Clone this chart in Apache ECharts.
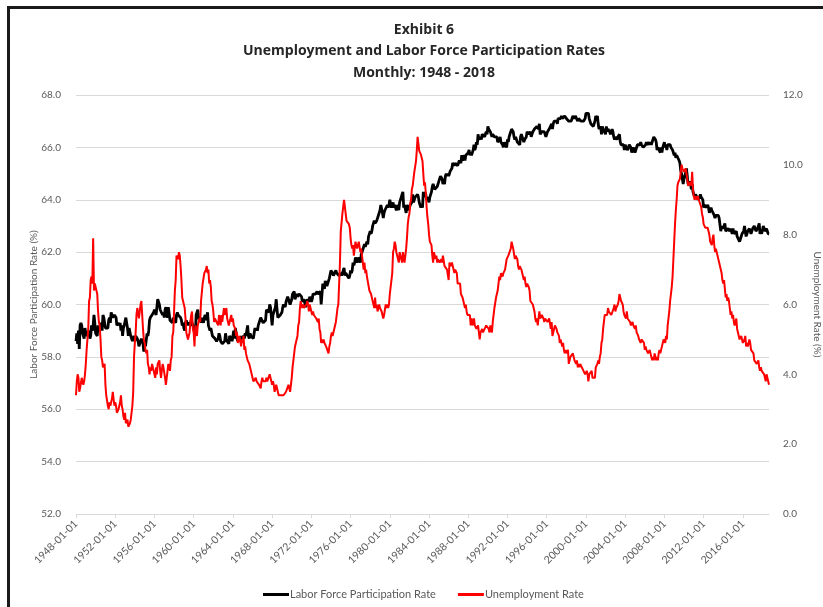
<!DOCTYPE html>
<html>
<head>
<meta charset="utf-8">
<script src="https://cdn.jsdelivr.net/npm/echarts@6/dist/echarts.min.js"></script>
<style>
  html, body { margin: 0; padding: 0; background: #fff; }
  #chart { width: 823px; height: 607px; }
</style>
</head>
<body>
<div id="chart"></div>
<script>
// Monthly series, January 1948 through September 2018 (one row per year).
const startYear = 1948;

const participationRate = [
  58.6, 58.9, 58.5, 59.0, 58.3, 59.2, 59.3, 59.2, 58.9, 58.8, 58.7, 59.1,
  58.9, 58.9, 58.8, 58.8, 59.0, 58.7, 58.8, 59.2, 59.0, 59.2, 59.6, 59.3,
  58.9, 58.9, 58.8, 59.2, 59.1, 59.1, 59.2, 59.3, 59.0, 59.6, 59.5, 59.3,
  59.1, 59.1, 59.1, 59.1, 59.4, 59.5, 59.3, 59.7, 59.6, 59.5, 59.5, 59.6,
  59.6, 59.5, 59.2, 59.2, 59.3, 59.2, 59.3, 59.0, 59.2, 58.8, 59.1, 59.2,
  59.2, 59.5, 59.5, 59.1, 58.8, 59.1, 59.1, 58.8, 58.8, 58.6, 58.8, 58.7,
  58.6, 58.8, 58.8, 58.7, 58.6, 58.4, 58.4, 58.6, 58.7, 58.6, 58.5, 58.2,
  58.5, 58.4, 58.4, 58.9, 58.8, 59.0, 59.4, 59.5, 59.5, 59.6, 59.6, 59.7,
  59.8, 59.8, 59.6, 59.9, 60.2, 60.1, 60.0, 59.8, 59.8, 59.8, 59.6, 59.7,
  59.5, 59.8, 59.9, 59.6, 59.5, 59.9, 59.9, 59.4, 59.4, 59.4, 59.3, 59.5,
  59.4, 59.4, 59.3, 59.6, 59.7, 59.6, 59.6, 59.6, 59.5, 59.4, 59.2, 59.3,
  59.1, 59.0, 59.3, 59.4, 59.2, 59.3, 59.3, 59.3, 59.2, 59.4, 59.3, 59.3,
  59.1, 59.1, 58.8, 59.6, 59.7, 59.8, 59.5, 59.4, 59.5, 59.3, 59.5, 59.4,
  59.3, 59.5, 59.6, 59.4, 59.4, 59.7, 59.2, 59.2, 59.0, 59.1, 59.1, 58.8,
  58.8, 58.8, 58.7, 58.7, 58.6, 58.6, 58.7, 58.9, 58.8, 58.6, 58.6, 58.5,
  58.5, 58.5, 58.6, 58.9, 58.7, 58.6, 58.6, 58.5, 58.8, 58.8, 58.7, 58.6,
  58.6, 59.0, 58.7, 59.1, 59.1, 58.7, 58.6, 58.7, 58.7, 58.6, 58.8, 58.7,
  58.7, 58.8, 58.7, 58.9, 58.8, 59.0, 59.2, 58.8, 58.7, 58.9, 58.8, 58.8,
  58.8, 58.7, 58.7, 59.1, 59.0, 59.1, 59.0, 59.2, 59.3, 59.3, 59.5, 59.5,
  59.5, 59.3, 59.3, 59.3, 59.4, 59.8, 59.8, 59.8, 59.7, 60.0, 59.9, 59.9,
  59.2, 59.6, 59.6, 59.6, 59.9, 60.2, 59.8, 59.5, 59.5, 59.5, 59.6, 59.6,
  59.7, 59.9, 60.0, 60.0, 59.9, 60.1, 60.1, 60.3, 60.2, 60.2, 60.0, 60.1,
  60.2, 60.4, 60.4, 60.5, 60.2, 60.2, 60.4, 60.3, 60.3, 60.4, 60.4, 60.4,
  60.3, 60.1, 60.1, 60.2, 60.2, 59.9, 60.0, 60.2, 60.2, 60.1, 60.3, 60.3,
  60.1, 60.2, 60.4, 60.4, 60.4, 60.4, 60.4, 60.5, 60.4, 60.4, 60.4, 60.5,
  60.0, 60.4, 60.8, 60.7, 60.6, 60.9, 60.8, 60.7, 60.8, 60.9, 61.0, 61.0,
  61.3, 61.3, 61.2, 61.1, 61.1, 61.1, 61.3, 61.2, 61.2, 61.2, 61.1, 61.1,
  61.2, 61.1, 61.2, 61.2, 61.4, 61.1, 61.2, 61.2, 61.1, 61.1, 61.0, 61.1,
  61.3, 61.2, 61.3, 61.6, 61.5, 61.6, 61.8, 61.8, 61.6, 61.6, 61.8, 61.8,
  61.6, 61.9, 62.0, 62.1, 62.2, 62.3, 62.2, 62.3, 62.4, 62.3, 62.6, 62.7,
  62.8, 62.7, 62.8, 63.0, 63.0, 63.2, 63.1, 63.1, 63.2, 63.3, 63.4, 63.5,
  63.6, 63.8, 63.8, 63.5, 63.3, 63.5, 63.6, 63.6, 63.6, 63.8, 63.7, 63.8,
  64.0, 64.0, 63.7, 63.8, 63.9, 63.7, 63.8, 63.7, 63.6, 63.7, 63.8, 63.6,
  63.9, 63.9, 64.1, 64.2, 64.3, 63.7, 63.8, 63.8, 63.5, 63.8, 63.8, 63.6,
  63.7, 63.8, 63.8, 63.9, 64.2, 63.9, 64.0, 64.1, 64.1, 64.1, 64.2, 64.1,
  63.9, 63.8, 63.7, 63.8, 63.7, 64.3, 64.1, 64.3, 64.2, 64.0, 64.1, 64.1,
  63.9, 64.1, 64.1, 64.3, 64.5, 64.6, 64.6, 64.4, 64.4, 64.4, 64.5, 64.6,
  64.7, 64.7, 64.9, 64.9, 64.8, 64.6, 64.7, 64.6, 64.9, 65.0, 64.9, 65.0,
  64.9, 65.0, 65.1, 65.1, 65.2, 65.4, 65.4, 65.3, 65.4, 65.4, 65.4, 65.3,
  65.4, 65.5, 65.5, 65.4, 65.7, 65.5, 65.6, 65.7, 65.5, 65.7, 65.7, 65.7,
  65.8, 65.9, 65.7, 65.8, 65.7, 65.8, 65.9, 66.1, 65.9, 66.0, 66.2, 66.1,
  66.5, 66.3, 66.3, 66.4, 66.3, 66.5, 66.5, 66.5, 66.4, 66.5, 66.6, 66.5,
  66.8, 66.7, 66.7, 66.6, 66.6, 66.4, 66.5, 66.5, 66.4, 66.4, 66.4, 66.4,
  66.2, 66.2, 66.3, 66.4, 66.2, 66.2, 66.1, 66.0, 66.2, 66.1, 66.1, 66.0,
  66.3, 66.2, 66.4, 66.5, 66.6, 66.7, 66.7, 66.6, 66.4, 66.3, 66.4, 66.4,
  66.2, 66.2, 66.2, 66.1, 66.4, 66.5, 66.4, 66.4, 66.2, 66.3, 66.3, 66.4,
  66.6, 66.6, 66.5, 66.5, 66.6, 66.4, 66.4, 66.6, 66.6, 66.7, 66.7, 66.7,
  66.8, 66.8, 66.7, 66.9, 66.5, 66.5, 66.6, 66.6, 66.6, 66.6, 66.5, 66.4,
  66.4, 66.6, 66.6, 66.7, 66.7, 66.7, 66.9, 66.7, 66.9, 67.0, 67.0, 67.0,
  67.0, 66.9, 67.1, 67.1, 67.1, 67.1, 67.2, 67.1, 67.1, 67.1, 67.2, 67.2,
  67.1, 67.1, 67.1, 67.0, 67.0, 67.0, 67.0, 67.0, 67.2, 67.2, 67.1, 67.2,
  67.2, 67.2, 67.0, 67.1, 67.1, 67.1, 67.0, 67.0, 67.0, 67.0, 67.0, 67.1,
  67.3, 67.3, 67.3, 67.3, 67.1, 67.1, 66.9, 66.9, 66.9, 66.8, 66.9, 67.0,
  67.2, 67.1, 67.2, 66.9, 66.7, 66.7, 66.8, 66.5, 66.8, 66.7, 66.7, 66.7,
  66.5, 66.8, 66.6, 66.7, 66.7, 66.6, 66.5, 66.6, 66.7, 66.6, 66.4, 66.3,
  66.4, 66.4, 66.3, 66.4, 66.4, 66.5, 66.2, 66.1, 66.1, 66.1, 66.1, 65.9,
  66.1, 66.0, 66.0, 65.9, 66.0, 66.1, 66.1, 66.0, 65.8, 65.9, 66.0, 65.9,
  65.8, 65.9, 65.9, 66.1, 66.1, 66.1, 66.1, 66.2, 66.1, 66.1, 66.0, 66.0,
  66.0, 66.1, 66.2, 66.1, 66.1, 66.2, 66.1, 66.2, 66.1, 66.2, 66.3, 66.4,
  66.4, 66.3, 66.2, 65.9, 66.0, 66.0, 66.0, 65.8, 66.0, 65.8, 66.0, 66.0,
  66.2, 66.0, 66.1, 65.9, 66.1, 66.1, 66.1, 66.1, 66.0, 66.0, 65.9, 65.8,
  65.7, 65.8, 65.6, 65.7, 65.7, 65.7, 65.5, 65.4, 65.1, 65.0, 65.0, 64.6,
  64.8, 64.9, 64.9, 65.2, 64.9, 64.6, 64.6, 64.7, 64.6, 64.4, 64.6, 64.3,
  64.2, 64.1, 64.2, 64.2, 64.1, 64.0, 64.0, 64.1, 64.2, 64.1, 64.1, 64.0,
  63.7, 63.8, 63.8, 63.7, 63.7, 63.8, 63.7, 63.5, 63.6, 63.7, 63.6, 63.6,
  63.6, 63.4, 63.3, 63.4, 63.4, 63.4, 63.4, 63.3, 63.3, 62.8, 63.0, 62.9,
  62.9, 63.0, 63.1, 62.8, 62.8, 62.8, 62.9, 62.9, 62.8, 62.9, 62.9, 62.7,
  62.9, 62.7, 62.7, 62.7, 62.8, 62.6, 62.6, 62.6, 62.4, 62.5, 62.5, 62.7,
  62.7, 62.8, 63.0, 62.8, 62.6, 62.7, 62.8, 62.8, 62.9, 62.8, 62.7, 62.7,
  62.9, 62.9, 63.0, 62.9, 62.8, 62.8, 62.9, 62.9, 63.1, 62.7, 62.8, 62.7,
  62.7, 63.0, 62.9, 62.8, 62.8, 62.9, 62.9, 62.7, 62.7
];

const unemploymentRate = [
  3.4, 3.8, 4.0, 3.9, 3.5, 3.6, 3.6, 3.9, 3.8, 3.7, 3.8, 4.0,
  4.3, 4.7, 5.0, 5.3, 6.1, 6.2, 6.7, 6.8, 6.6, 7.9, 6.4, 6.6,
  6.5, 6.4, 6.3, 5.8, 5.5, 5.4, 5.0, 4.5, 4.4, 4.2, 4.2, 4.3,
  3.7, 3.4, 3.4, 3.1, 3.0, 3.2, 3.1, 3.1, 3.3, 3.5, 3.5, 3.1,
  3.2, 3.1, 2.9, 2.9, 3.0, 3.0, 3.2, 3.4, 3.1, 3.0, 2.8, 2.7,
  2.9, 2.6, 2.6, 2.7, 2.5, 2.5, 2.6, 2.7, 2.9, 3.1, 3.5, 4.5,
  4.9, 5.2, 5.7, 5.9, 5.9, 5.6, 5.8, 6.0, 6.1, 5.7, 5.3, 5.0,
  4.9, 4.7, 4.6, 4.7, 4.3, 4.2, 4.0, 4.2, 4.1, 4.3, 4.2, 4.2,
  4.0, 3.9, 4.2, 4.0, 4.3, 4.3, 4.4, 4.1, 3.9, 3.9, 4.3, 4.2,
  4.2, 3.9, 3.7, 3.9, 4.1, 4.3, 4.2, 4.1, 4.4, 4.5, 5.1, 5.2,
  5.8, 6.4, 6.7, 7.4, 7.4, 7.3, 7.5, 7.4, 7.1, 6.7, 6.2, 6.2,
  6.0, 5.9, 5.6, 5.2, 5.1, 5.0, 5.1, 5.2, 5.5, 5.7, 5.8, 5.3,
  5.2, 4.8, 5.4, 5.2, 5.1, 5.4, 5.5, 5.6, 5.5, 6.1, 6.1, 6.6,
  6.6, 6.9, 6.9, 7.0, 7.1, 6.9, 7.0, 6.6, 6.7, 6.5, 6.1, 6.0,
  5.8, 5.5, 5.6, 5.6, 5.5, 5.5, 5.4, 5.7, 5.6, 5.4, 5.7, 5.5,
  5.7, 5.9, 5.7, 5.7, 5.9, 5.6, 5.6, 5.4, 5.5, 5.5, 5.7, 5.5,
  5.6, 5.4, 5.4, 5.3, 5.1, 5.2, 4.9, 5.0, 5.1, 5.1, 4.8, 5.0,
  4.9, 5.1, 4.7, 4.8, 4.6, 4.6, 4.4, 4.4, 4.3, 4.2, 4.1, 4.0,
  4.0, 3.8, 3.8, 3.8, 3.9, 3.8, 3.8, 3.8, 3.7, 3.7, 3.6, 3.8,
  3.9, 3.8, 3.8, 3.8, 3.8, 3.9, 3.8, 3.8, 3.8, 4.0, 3.9, 3.8,
  3.7, 3.8, 3.7, 3.5, 3.5, 3.7, 3.7, 3.5, 3.4, 3.4, 3.4, 3.4,
  3.4, 3.4, 3.4, 3.4, 3.4, 3.5, 3.5, 3.5, 3.7, 3.7, 3.5, 3.5,
  3.9, 4.2, 4.4, 4.6, 4.8, 4.9, 5.0, 5.1, 5.4, 5.5, 5.9, 6.1,
  5.9, 5.9, 6.0, 5.9, 5.9, 5.9, 6.0, 6.1, 6.0, 5.8, 6.0, 6.0,
  5.8, 5.7, 5.8, 5.7, 5.7, 5.7, 5.6, 5.6, 5.5, 5.6, 5.3, 5.2,
  4.9, 5.0, 4.9, 5.0, 4.9, 4.9, 4.8, 4.8, 4.8, 4.6, 4.8, 4.9,
  5.1, 5.2, 5.1, 5.1, 5.1, 5.4, 5.5, 5.5, 5.9, 6.0, 6.6, 7.2,
  8.1, 8.1, 8.6, 8.8, 9.0, 8.8, 8.6, 8.4, 8.4, 8.4, 8.3, 8.2,
  7.9, 7.7, 7.6, 7.7, 7.4, 7.6, 7.8, 7.8, 7.6, 7.7, 7.8, 7.8,
  7.5, 7.6, 7.4, 7.2, 7.0, 7.2, 6.9, 7.0, 6.8, 6.8, 6.8, 6.4,
  6.4, 6.3, 6.3, 6.1, 6.0, 5.9, 6.2, 5.9, 6.0, 5.8, 5.9, 6.0,
  5.9, 5.9, 5.8, 5.8, 5.6, 5.7, 5.7, 6.0, 5.9, 6.0, 5.9, 6.0,
  6.3, 6.3, 6.3, 6.9, 7.5, 7.6, 7.8, 7.7, 7.5, 7.5, 7.5, 7.2,
  7.5, 7.4, 7.4, 7.2, 7.5, 7.5, 7.2, 7.4, 7.6, 7.9, 8.3, 8.5,
  8.6, 8.9, 9.0, 9.3, 9.4, 9.6, 9.8, 9.8, 10.1, 10.4, 10.8, 10.8,
  10.4, 10.4, 10.3, 10.2, 10.1, 10.1, 9.4, 9.5, 9.2, 8.8, 8.5, 8.3,
  8.0, 7.8, 7.8, 7.7, 7.4, 7.2, 7.5, 7.5, 7.3, 7.4, 7.2, 7.3,
  7.3, 7.2, 7.2, 7.3, 7.2, 7.4, 7.4, 7.1, 7.1, 7.1, 7.0, 7.0,
  6.7, 7.2, 7.2, 7.1, 7.2, 7.2, 7.0, 6.9, 7.0, 7.0, 6.9, 6.6,
  6.6, 6.6, 6.6, 6.3, 6.3, 6.2, 6.1, 6.0, 5.9, 6.0, 5.8, 5.7,
  5.7, 5.7, 5.7, 5.4, 5.6, 5.4, 5.4, 5.6, 5.4, 5.4, 5.3, 5.3,
  5.4, 5.2, 5.0, 5.2, 5.2, 5.3, 5.2, 5.2, 5.3, 5.3, 5.4, 5.4,
  5.4, 5.3, 5.2, 5.4, 5.4, 5.2, 5.5, 5.7, 5.9, 5.9, 6.2, 6.3,
  6.4, 6.6, 6.8, 6.7, 6.9, 6.9, 6.8, 6.9, 6.9, 7.0, 7.0, 7.3,
  7.3, 7.4, 7.4, 7.4, 7.6, 7.8, 7.7, 7.6, 7.6, 7.3, 7.4, 7.4,
  7.3, 7.1, 7.0, 7.1, 7.1, 7.0, 6.9, 6.8, 6.7, 6.8, 6.6, 6.5,
  6.6, 6.6, 6.5, 6.4, 6.1, 6.1, 6.1, 6.0, 5.9, 5.8, 5.6, 5.5,
  5.6, 5.4, 5.4, 5.8, 5.6, 5.6, 5.7, 5.7, 5.6, 5.5, 5.6, 5.6,
  5.6, 5.5, 5.5, 5.6, 5.6, 5.3, 5.5, 5.1, 5.2, 5.2, 5.4, 5.4,
  5.3, 5.2, 5.2, 5.1, 4.9, 5.0, 4.9, 4.8, 4.9, 4.7, 4.6, 4.7,
  4.6, 4.6, 4.7, 4.3, 4.4, 4.5, 4.5, 4.5, 4.6, 4.5, 4.4, 4.4,
  4.3, 4.4, 4.2, 4.3, 4.2, 4.3, 4.3, 4.2, 4.2, 4.1, 4.1, 4.0,
  4.0, 4.1, 4.0, 3.8, 4.0, 4.0, 4.0, 4.1, 3.9, 3.9, 3.9, 3.9,
  4.2, 4.2, 4.3, 4.4, 4.3, 4.5, 4.6, 4.9, 5.0, 5.3, 5.5, 5.7,
  5.7, 5.7, 5.7, 5.9, 5.8, 5.8, 5.8, 5.7, 5.7, 5.7, 5.9, 6.0,
  5.8, 5.9, 5.9, 6.0, 6.1, 6.3, 6.2, 6.1, 6.1, 6.0, 5.8, 5.7,
  5.7, 5.6, 5.8, 5.6, 5.6, 5.6, 5.5, 5.4, 5.4, 5.5, 5.4, 5.4,
  5.3, 5.4, 5.2, 5.2, 5.1, 5.0, 5.0, 4.9, 5.0, 5.0, 5.0, 4.9,
  4.7, 4.8, 4.7, 4.7, 4.6, 4.6, 4.7, 4.7, 4.5, 4.4, 4.5, 4.4,
  4.6, 4.5, 4.4, 4.5, 4.4, 4.6, 4.7, 4.6, 4.7, 4.7, 4.7, 5.0,
  5.0, 4.9, 5.1, 5.0, 5.4, 5.6, 5.8, 6.1, 6.1, 6.5, 6.8, 7.3,
  7.8, 8.3, 8.7, 9.0, 9.4, 9.5, 9.5, 9.6, 9.8, 10.0, 9.9, 9.9,
  9.8, 9.8, 9.9, 9.9, 9.6, 9.4, 9.4, 9.5, 9.5, 9.4, 9.8, 9.3,
  9.1, 9.0, 9.0, 9.1, 9.0, 9.1, 9.0, 9.0, 9.0, 8.8, 8.6, 8.5,
  8.3, 8.3, 8.2, 8.2, 8.2, 8.2, 8.2, 8.0, 7.8, 7.8, 7.7, 7.9,
  8.0, 7.7, 7.5, 7.6, 7.5, 7.5, 7.3, 7.2, 7.2, 7.2, 6.9, 6.7,
  6.6, 6.7, 6.7, 6.2, 6.3, 6.1, 6.2, 6.1, 5.9, 5.7, 5.8, 5.6,
  5.7, 5.5, 5.4, 5.4, 5.6, 5.3, 5.2, 5.1, 5.0, 5.0, 5.1, 5.0,
  4.9, 4.9, 5.0, 5.1, 4.8, 4.9, 4.8, 4.9, 5.0, 4.9, 4.7, 4.7,
  4.7, 4.6, 4.4, 4.4, 4.4, 4.3, 4.3, 4.4, 4.2, 4.1, 4.2, 4.1,
  4.1, 4.1, 4.0, 4.0, 3.8, 4.0, 3.9, 3.8, 3.7
];

// Category labels: first day of each month
const months = participationRate.map((_, i) => {
  const y = startYear + Math.floor(i / 12);
  const m = String((i % 12) + 1).padStart(2, '0');
  return y + '-' + m + '-01';
});

const titleLines = [
  'Exhibit 6',
  'Unemployment and Labor Force Participation Rates',
  'Monthly: 1948 - 2018'
];

const leftTicks = { min: 52, max: 68, interval: 2 };
const rightTicks = { min: 0, max: 12, interval: 2 };

const FONT = 'Lato, "Open Sans", sans-serif';
const TITLE_FONT = '"Open Sans", Lato, sans-serif';
const GREY = '#595959';

const chart = echarts.init(document.getElementById('chart'), null, { renderer: 'canvas' });

chart.setOption({
  backgroundColor: '#ffffff',
  animation: false,
  graphic: [{
    type: 'rect',
    shape: { x: 8.5, y: 7.5, width: 1000, height: 1000 },
    style: { fill: 'none', stroke: '#1a1a1a', lineWidth: 3 },
    silent: true
  }, {
    type: 'text',
    x: 424,
    y: 19,
    silent: true,
    style: {
      text: titleLines.join('\n'),
      align: 'center',
      verticalAlign: 'top',
      fontFamily: TITLE_FONT,
      fontSize: 14,
      fontWeight: 'bold',
      fill: '#262626',
      lineHeight: 21.5
    }
  }],
  grid: { left: 76, right: 54, top: 95, bottom: 93, outerBoundsMode: 'none', containLabel: false },
  legend: {
    left: 258,
    top: 584,
    itemWidth: 26,
    itemHeight: 3,
    itemGap: 22,
    icon: 'rect',
    textStyle: { fontFamily: FONT, fontSize: 11, color: GREY, padding: [0, 0, 0, -4] },
    data: ['Labor Force Participation Rate', 'Unemployment Rate']
  },
  xAxis: {
    type: 'category',
    data: months,
    boundaryGap: false,
    axisLine: { lineStyle: { color: '#d9d9d9' } },
    axisTick: { show: true, interval: 47, length: 4, lineStyle: { color: '#d9d9d9' } },
    axisLabel: {
      interval: 47,
      rotate: 45,
      fontFamily: FONT,
      fontSize: 10.5,
      color: GREY,
      margin: 8
    },
    splitLine: { show: false }
  },
  yAxis: [{
    type: 'value',
    position: 'left',
    min: leftTicks.min,
    max: leftTicks.max,
    interval: leftTicks.interval,
    name: 'Labor Force Participation Rate (%)',
    nameLocation: 'middle',
    nameRotate: 90,
    nameGap: 37,
    nameMoveOverlap: false,
    nameTextStyle: { fontFamily: FONT, fontSize: 10, color: GREY },
    axisLine: { show: false },
    axisTick: { show: false },
    axisLabel: {
      fontFamily: FONT, fontSize: 10, color: GREY, margin: 15,
      formatter: v => v.toFixed(1)
    },
    splitLine: { lineStyle: { color: '#d9d9d9', width: 1 } }
  }, {
    type: 'value',
    position: 'right',
    min: rightTicks.min,
    max: rightTicks.max,
    interval: rightTicks.interval,
    name: 'Unemployment Rate (%)',
    nameLocation: 'middle',
    nameRotate: -90,
    nameGap: 43,
    nameMoveOverlap: false,
    nameTextStyle: { fontFamily: FONT, fontSize: 10, color: GREY },
    axisLine: { show: false },
    axisTick: { show: false },
    axisLabel: {
      fontFamily: FONT, fontSize: 10, color: GREY, margin: 14,
      formatter: v => v.toFixed(1)
    },
    splitLine: { show: false }
  }],
  series: [{
    name: 'Labor Force Participation Rate',
    type: 'line',
    yAxisIndex: 0,
    data: participationRate,
    showSymbol: false,
    symbol: 'none',
    color: '#000000',
    lineStyle: { color: '#000000', width: 2.8 },
    z: 2
  }, {
    name: 'Unemployment Rate',
    type: 'line',
    yAxisIndex: 1,
    data: unemploymentRate,
    showSymbol: false,
    symbol: 'none',
    color: '#ff0000',
    lineStyle: { color: '#ff0000', width: 2 },
    z: 3
  }]
});
</script>
</body>
</html>
